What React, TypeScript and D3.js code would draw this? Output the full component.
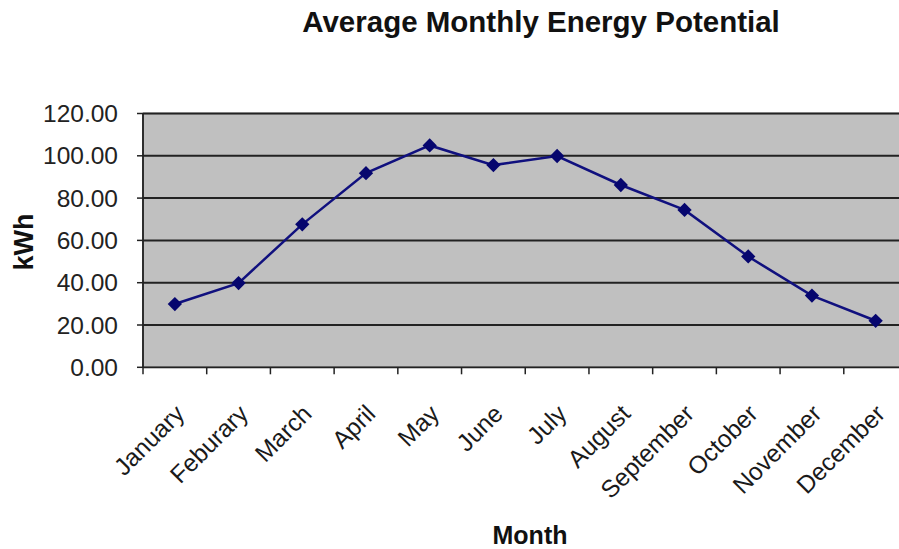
import React from 'react';
import * as d3 from 'd3';

// chart data
const months = [
  'January', 'Feburary', 'March', 'April', 'May', 'June',
  'July', 'August', 'September', 'October', 'November', 'December',
];
const energy = [29.9, 39.8, 67.6, 91.8, 104.9, 95.6, 99.9, 86.2, 74.4, 52.4, 33.9, 22.0];
const yTicks = [0, 20, 40, 60, 80, 100, 120];

const W = 899;
const H = 549;
const plot = { left: 143, right: 907.5, top: 113.5, bottom: 367.3 };
const font = 'Arial, "Liberation Sans", Helvetica, sans-serif';

const App = () => {
  const x = d3.scaleBand().domain(months).range([plot.left, plot.right]).padding(0);
  const y = d3.scaleLinear().domain([0, 120]).range([plot.bottom, plot.top]);

  const line = d3
    .line<number>()
    .x((d, i) => x(months[i])! + x.bandwidth() / 2)
    .y((d) => y(d));

  const diamond = d3.symbol().type(d3.symbolDiamond2).size(130)();

  const bounds = [...months.map((m) => x(m)!), plot.right];

  return (
    <div style={{ position: 'fixed', left: 0, top: 0, background: '#fff' }}>
      <svg width={W} height={H} style={{ display: 'block', overflow: 'hidden' }} fontFamily={font}>
        <rect width={W} height={H} fill="#fff" />

        {/* title */}
        <text x={541} y={32} textAnchor="middle" fontSize={29.5} fontWeight="bold" fill="#111">
          Average Monthly Energy Potential
        </text>

        {/* plot area */}
        <rect
          x={plot.left}
          y={plot.top}
          width={plot.right - plot.left}
          height={plot.bottom - plot.top}
          fill="#c0c0c0"
          stroke="#8a8a8a"
          strokeWidth={1.5}
        />

        {/* gridlines */}
        {yTicks.filter((t) => t > 0).map((t) => (
          <line key={t} x1={plot.left} x2={plot.right} y1={y(t)} y2={y(t)} stroke="#222" strokeWidth={2} />
        ))}

        {/* axes */}
        <line x1={plot.left} x2={plot.left} y1={plot.top} y2={plot.bottom} stroke="#222" strokeWidth={1.8} />
        <line x1={plot.left} x2={plot.right} y1={plot.bottom} y2={plot.bottom} stroke="#222" strokeWidth={1.8} />

        {/* y ticks + labels */}
        {yTicks.map((t) => (
          <g key={t}>
            <line x1={plot.left - 6} x2={plot.left} y1={y(t)} y2={y(t)} stroke="#222" strokeWidth={1.5} />
            <text x={118} y={y(t) + 8.5} textAnchor="end" fontSize={24.5} fill="#222">
              {t.toFixed(2)}
            </text>
          </g>
        ))}

        {/* x ticks */}
        {bounds.map((b, i) => (
          <line key={i} x1={b} x2={b} y1={plot.bottom} y2={plot.bottom + 7} stroke="#222" strokeWidth={1.5} />
        ))}

        {/* x labels */}
        {months.map((m) => {
          const cx = x(m)! + x.bandwidth() / 2 + 11;
          const cy = plot.bottom + 48;
          return (
            <text
              key={m}
              x={cx}
              y={cy}
              textAnchor="end"
              fontSize={24.5}
              fill="#1a1a1a"
              transform={`rotate(-45, ${cx}, ${cy})`}
            >
              {m}
            </text>
          );
        })}

        {/* series */}
        <path d={line(energy)!} fill="none" stroke="#10107e" strokeWidth={2.5} />
        {energy.map((v, i) => (
          <path
            key={i}
            d={diamond!}
            transform={`translate(${x(months[i])! + x.bandwidth() / 2}, ${y(v)})`}
            fill="#06066e"
          />
        ))}

        {/* axis titles */}
        <text
          x={0}
          y={0}
          transform="translate(33, 242) rotate(-90)"
          textAnchor="middle"
          fontSize={27}
          fontWeight="bold"
          fill="#111"
        >
          kWh
        </text>
        <text x={530} y={544} textAnchor="middle" fontSize={25} fontWeight="bold" fill="#111">
          Month
        </text>
      </svg>
    </div>
  );
};

export default App;
